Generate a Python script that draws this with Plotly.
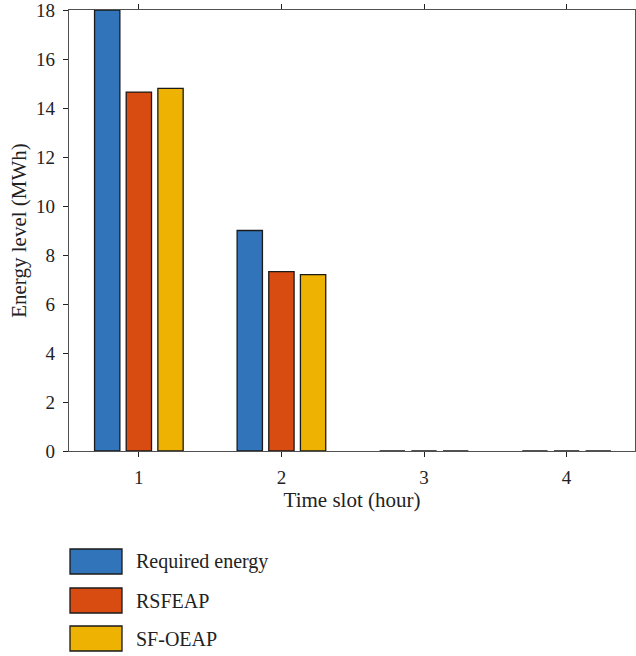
import plotly.graph_objects as go

slots = [1, 2, 3, 4]
series_names = ["Required energy", "RSFEAP", "SF-OEAP"]
required_energy = [18.0, 9.0, 0.0, 0.0]
rsfeap = [14.65, 7.32, 0.0, 0.0]
sf_oeap = [14.8, 7.2, 0.0, 0.0]
colors = ["#3174B9", "#D84C12", "#EDB202"]
y_ticks = [0, 2, 4, 6, 8, 10, 12, 14, 16, 18]

FONT = "Liberation Serif"
AX = "#505050"

fig = go.Figure()
for name, vals, col in zip(series_names, [required_energy, rsfeap, sf_oeap], colors):
    fig.add_trace(go.Bar(x=slots, y=vals, name=name,
                         marker=dict(color=col, line=dict(color="#1a1a1a", width=1.3)),
                         showlegend=False, cliponaxis=False))

fig.update_layout(
    width=636, height=656,
    margin=dict(l=69, r=1, t=10, b=205),
    plot_bgcolor="white", paper_bgcolor="white",
    barmode="group", bargap=0.334, bargroupgap=0.2,
    font=dict(family=FONT, size=19, color="#222"),
    xaxis=dict(range=[0.51, 4.48], tickvals=slots, ticks="outside", ticklen=5, tickcolor="#222",
               showline=True, linecolor=AX, linewidth=1.3, mirror="ticks", showgrid=False, zeroline=False,
               title=dict(text="Time slot (hour)", font=dict(size=21, family=FONT), standoff=3),
               tickfont=dict(size=19, family=FONT), ticklabelstandoff=4, ticklabeloverflow="allow",
               automargin=False),
    yaxis=dict(range=[0, 18], tickvals=y_ticks, ticks="outside", ticklen=5, tickcolor="#222",
               showline=True, linecolor=AX, linewidth=1.3, mirror="ticks", showgrid=False, zeroline=False,
               title=dict(text="Energy level (MWh)", font=dict(size=21, family=FONT), standoff=3),
               tickfont=dict(size=19, family=FONT), ticklabelstandoff=4, ticklabeloverflow="allow",
               automargin=False),
)

# Manual legend with large swatches below the plot
plot_h = 441.0
plot_w = 566.0
tops = [549, 588, 626]
for name, col, top in zip(series_names, colors, tops):
    y0 = -(top - 451) / plot_h
    y1 = -(top + 25 - 451) / plot_h
    fig.add_shape(type="rect", xref="paper", yref="paper",
                  x0=(70 - 69) / plot_w, x1=(122 - 69) / plot_w, y0=y1, y1=y0,
                  fillcolor=col, line=dict(color="#1a1a1a", width=1.3))
    fig.add_annotation(xref="paper", yref="paper", x=(134 - 69) / plot_w, y=(y0 + y1) / 2,
                       text=name, showarrow=False, xanchor="left", yanchor="middle",
                       font=dict(family=FONT, size=20, color="#222"))

fig.write_html("out.html")
